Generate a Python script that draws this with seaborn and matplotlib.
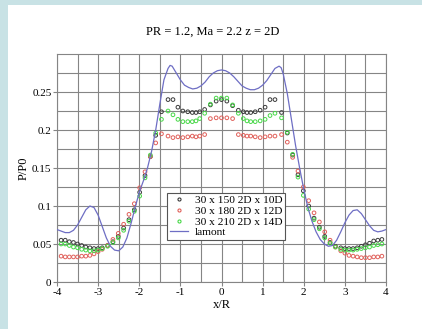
import pandas as pd
import seaborn as sns
import matplotlib.pyplot as plt
from matplotlib.lines import Line2D
from matplotlib.patches import Rectangle

# x/R positions of the simulated points
x_pts = [-3.9, -3.8, -3.7, -3.6, -3.5, -3.4, -3.3, -3.2, -3.1, -3.0, -2.9, -2.77, -2.64,
         -2.51, -2.38, -2.25, -2.12, -1.99, -1.86, -1.73, -1.60, -1.46, -1.30, -1.18,
         -1.06, -0.94, -0.82, -0.71, -0.62, -0.53, -0.41, -0.27, -0.13, 0.0, 0.13, 0.27,
         0.41, 0.53, 0.62, 0.71, 0.82, 0.94, 1.06, 1.18, 1.30, 1.46, 1.60, 1.73, 1.86,
         1.99, 2.12, 2.25, 2.38, 2.51, 2.64, 2.77, 2.9, 3.0, 3.1, 3.2, 3.3, 3.4, 3.5,
         3.6, 3.7, 3.8, 3.9]

p_150 = [0.055, 0.055, 0.053, 0.052, 0.050, 0.048, 0.046, 0.045, 0.044, 0.044, 0.045, 0.048,
         0.053, 0.060, 0.071, 0.082, 0.095, 0.118, 0.140, 0.165, 0.193, 0.224, 0.240, 0.240,
         0.230, 0.225, 0.224, 0.223, 0.223, 0.224, 0.227, 0.233, 0.238, 0.240, 0.238, 0.232,
         0.226, 0.224, 0.223, 0.223, 0.224, 0.226, 0.230, 0.240, 0.240, 0.223, 0.196, 0.167,
         0.141, 0.120, 0.100, 0.084, 0.072, 0.060, 0.052, 0.047, 0.045, 0.044, 0.044, 0.044,
         0.045, 0.047, 0.049, 0.051, 0.054, 0.055, 0.056]

p_180 = [0.034, 0.033, 0.033, 0.033, 0.033, 0.034, 0.034, 0.035, 0.037, 0.040, 0.043, 0.048,
         0.056, 0.064, 0.076, 0.089, 0.103, 0.124, 0.145, 0.165, 0.183, 0.195, 0.192, 0.190,
         0.191, 0.190, 0.191, 0.192, 0.191, 0.192, 0.194, 0.215, 0.216, 0.216, 0.216, 0.215,
         0.194, 0.193, 0.192, 0.192, 0.191, 0.190, 0.191, 0.192, 0.192, 0.194, 0.184, 0.164,
         0.146, 0.125, 0.107, 0.091, 0.079, 0.066, 0.055, 0.046, 0.041, 0.038, 0.035, 0.034,
         0.033, 0.032, 0.032, 0.032, 0.033, 0.033, 0.034]

p_210 = [0.050, 0.050, 0.048, 0.046, 0.045, 0.043, 0.042, 0.041, 0.041, 0.042, 0.044, 0.047,
         0.052, 0.058, 0.068, 0.080, 0.093, 0.113, 0.137, 0.167, 0.196, 0.214, 0.225, 0.220,
         0.214, 0.211, 0.211, 0.211, 0.212, 0.215, 0.222, 0.234, 0.242, 0.242, 0.242, 0.233,
         0.222, 0.215, 0.212, 0.211, 0.211, 0.212, 0.214, 0.219, 0.222, 0.216, 0.197, 0.168,
         0.138, 0.114, 0.096, 0.082, 0.070, 0.058, 0.051, 0.046, 0.043, 0.042, 0.042, 0.042,
         0.043, 0.044, 0.045, 0.046, 0.048, 0.049, 0.050]

# lamont reference curve
x_lam = [-4.0, -3.9, -3.8, -3.7, -3.6, -3.5, -3.4, -3.3, -3.2, -3.1, -3.0, -2.9, -2.8, -2.7,
         -2.6, -2.5, -2.4, -2.3, -2.2, -2.1, -2.0, -1.9, -1.8, -1.7, -1.6, -1.5, -1.4, -1.3,
         -1.25, -1.2, -1.1, -1.0, -0.9, -0.8, -0.7, -0.6, -0.5, -0.4, -0.3, -0.2, -0.1, 0.0,
         0.1, 0.2, 0.3, 0.4, 0.5, 0.6, 0.7, 0.8, 0.9, 1.0, 1.1, 1.2, 1.3, 1.4, 1.45, 1.5,
         1.6, 1.7, 1.8, 1.9, 2.0, 2.1, 2.2, 2.3, 2.4, 2.5, 2.6, 2.7, 2.8, 2.9, 3.0, 3.1,
         3.2, 3.3, 3.4, 3.5, 3.6, 3.7, 3.8, 3.9, 4.0]
p_lam = [0.069, 0.067, 0.065, 0.065, 0.068, 0.075, 0.085, 0.095, 0.100, 0.098, 0.088, 0.073,
         0.058, 0.047, 0.042, 0.041, 0.046, 0.058, 0.077, 0.098, 0.118, 0.133, 0.150, 0.172,
         0.200, 0.234, 0.266, 0.281, 0.285, 0.284, 0.275, 0.266, 0.259, 0.256, 0.254, 0.255,
         0.258, 0.263, 0.270, 0.275, 0.278, 0.279, 0.278, 0.275, 0.270, 0.264, 0.258, 0.255,
         0.253, 0.253, 0.255, 0.259, 0.265, 0.273, 0.281, 0.284, 0.282, 0.274, 0.248, 0.214,
         0.180, 0.150, 0.122, 0.098, 0.080, 0.066, 0.056, 0.050, 0.047, 0.048, 0.055, 0.066,
         0.078, 0.088, 0.094, 0.095, 0.090, 0.082, 0.074, 0.068, 0.066, 0.067, 0.069]

labels = ["30 x 150 2D x 10D", "30 x 180 2D x 12D", "30 x 210 2D x 14D", "lamont"]
colors = ["#3a3a3a", "#e0605a", "#48d848", "#6e6ec4"]

plt.rcParams['font.family'] = 'Liberation Serif'
plt.rcParams['axes.unicode_minus'] = False

fig = plt.figure(figsize=(4.22, 3.29), dpi=100, facecolor="#c8e2e5")
fig.patches.append(Rectangle((8 / 422, 0), 1, 1 - 5 / 329, transform=fig.transFigure,
                             facecolor="white", edgecolor="none", zorder=-10))
ax = fig.add_axes([57 / 422, 47 / 329, 329 / 422, 228 / 329])
ax.set_zorder(1)

for vals, c in zip([p_150, p_180, p_210], colors[:3]):
    sns.scatterplot(x=x_pts, y=vals, ax=ax, marker="o", s=7, linewidth=0.7, zorder=3)
    coll = ax.collections[-1]
    coll.set_facecolor("none")
    coll.set_edgecolor(c)

df_lam = pd.DataFrame({"x": x_lam, "p": p_lam})
sns.lineplot(data=df_lam, x="x", y="p", ax=ax, color=colors[3], linewidth=0.9,
             sort=False, estimator=None, zorder=4)

ax.set_xlim(-4, 4)
ax.set_ylim(0, 0.3)
ax.set_xticks([-4, -3, -2, -1, 0, 1, 2, 3, 4])
ax.set_xticklabels(["-4", "-3", "-2", "-1", "0", "1", "2", "3", "4"])
ax.set_xticks([-3.5, -2.5, -1.5, -0.5, 0.5, 1.5, 2.5, 3.5], minor=True)
ax.set_yticks([0, 0.05, 0.1, 0.15, 0.2, 0.25])
ax.set_yticklabels(["0", "0.05", "0.1", "0.15", "0.2", "0.25"])
ax.set_yticks([0.025, 0.075, 0.125, 0.175, 0.225, 0.275], minor=True)
ax.grid(True, which="both", color="#858585", linewidth=0.8)
ax.set_axisbelow(True)
ax.tick_params(which="major", length=3, width=0.8, color="#858585", labelsize=8, pad=1)
ax.tick_params(which="minor", length=0)
for sp in ax.spines.values():
    sp.set_color("#858585")
    sp.set_linewidth(0.8)

ax.set_xlabel("x/R", fontsize=9, labelpad=2)
ax.set_ylabel("P/P0", fontsize=9, labelpad=2)
fig.text(213 / 422, 1 - 32 / 329, "PR = 1.2, Ma = 2.2 z = 2D", ha="center", va="center",
         fontsize=9)

handles = [Line2D([], [], linestyle="none", marker="o", markersize=2.2,
                  markerfacecolor="none", markeredgecolor=c, markeredgewidth=0.8)
           for c in colors[:3]]
handles.append(Line2D([], [], color=colors[3], linewidth=0.9))
leg = ax.legend(handles, labels, loc="upper left", bbox_to_anchor=(0.334, 0.392),
                fontsize=8.2, frameon=True, fancybox=False, framealpha=1,
                edgecolor="#555555", borderpad=0.25, labelspacing=0.05,
                handlelength=1.6, handletextpad=0.6, borderaxespad=0)
leg.get_frame().set_linewidth(0.8)

plt.savefig("out.png", dpi=100, facecolor=fig.get_facecolor())
